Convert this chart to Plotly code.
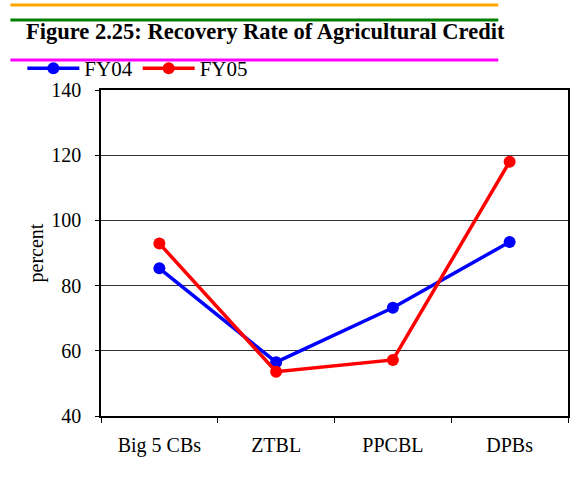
import plotly.graph_objects as go

categories = ["Big 5 CBs", "ZTBL", "PPCBL", "DPBs"]
fy04 = [85.3, 56.5, 73.2, 93.4]
fy05 = [92.9, 53.6, 57.2, 118.0]

W, H = 582, 479
L, R, T, B = 101, 12, 90, 63
pw, ph = W - L - R, H - T - B

def px_x(x):
    return (x - L) / pw

def px_y(y):
    return (H - B - y) / ph

font = "Liberation Serif, Times New Roman, serif"

fig = go.Figure()
fig.add_trace(go.Scatter(x=categories, y=fy04, name="FY04", mode="lines+markers",
                         line=dict(color="#0000ff", width=3.5),
                         marker=dict(color="#0000ff", size=12)))
fig.add_trace(go.Scatter(x=categories, y=fy05, name="FY05", mode="lines+markers",
                         line=dict(color="#ff0000", width=3.5),
                         marker=dict(color="#ff0000", size=12)))

fig.update_layout(
    width=W, height=H,
    margin=dict(l=L, r=R, t=T, b=B),
    paper_bgcolor="white", plot_bgcolor="white",
    font=dict(family=font, size=20, color="black"),
    title=dict(text="<b>Figure 2.25: Recovery Rate of Agricultural Credit</b>",
               xref="container", yref="container",
               x=26 / W, xanchor="left", y=1 - 31 / H, yanchor="middle",
               font=dict(size=22.5)),
    legend=dict(orientation="h", x=px_x(22), y=px_y(48), xanchor="left", yanchor="top",
                bgcolor="rgba(0,0,0,0)", font=dict(size=21), itemwidth=52,
                tracegroupgap=0),
    showlegend=True,
)

fig.update_xaxes(range=[-0.5, 3.5], showline=True, linecolor="black", linewidth=1.5,
                 mirror=True, ticks="outside", ticklen=5, tickcolor="black",
                 tickson="boundaries", showgrid=False, ticklabelstandoff=10)
fig.update_yaxes(range=[40, 140], dtick=20, showline=True, linecolor="black",
                 linewidth=1.5, mirror=True, ticks="outside", ticklen=4,
                 tickcolor="black", showgrid=True, gridcolor="#333333",
                 gridwidth=1, zeroline=False, ticklabelstandoff=10,
                 title=dict(text="percent", standoff=2, font=dict(size=20)))

for yy, c in [(5, "orange"), (20, "green"), (60, "magenta")]:
    fig.add_shape(type="line", xref="paper", yref="paper",
                  x0=px_x(10), x1=px_x(500), y0=px_y(yy), y1=px_y(yy),
                  line=dict(color=c, width=3))

fig.write_html("out.html", config={"displayModeBar": False},
               post_script="document.body.style.margin='0';")
